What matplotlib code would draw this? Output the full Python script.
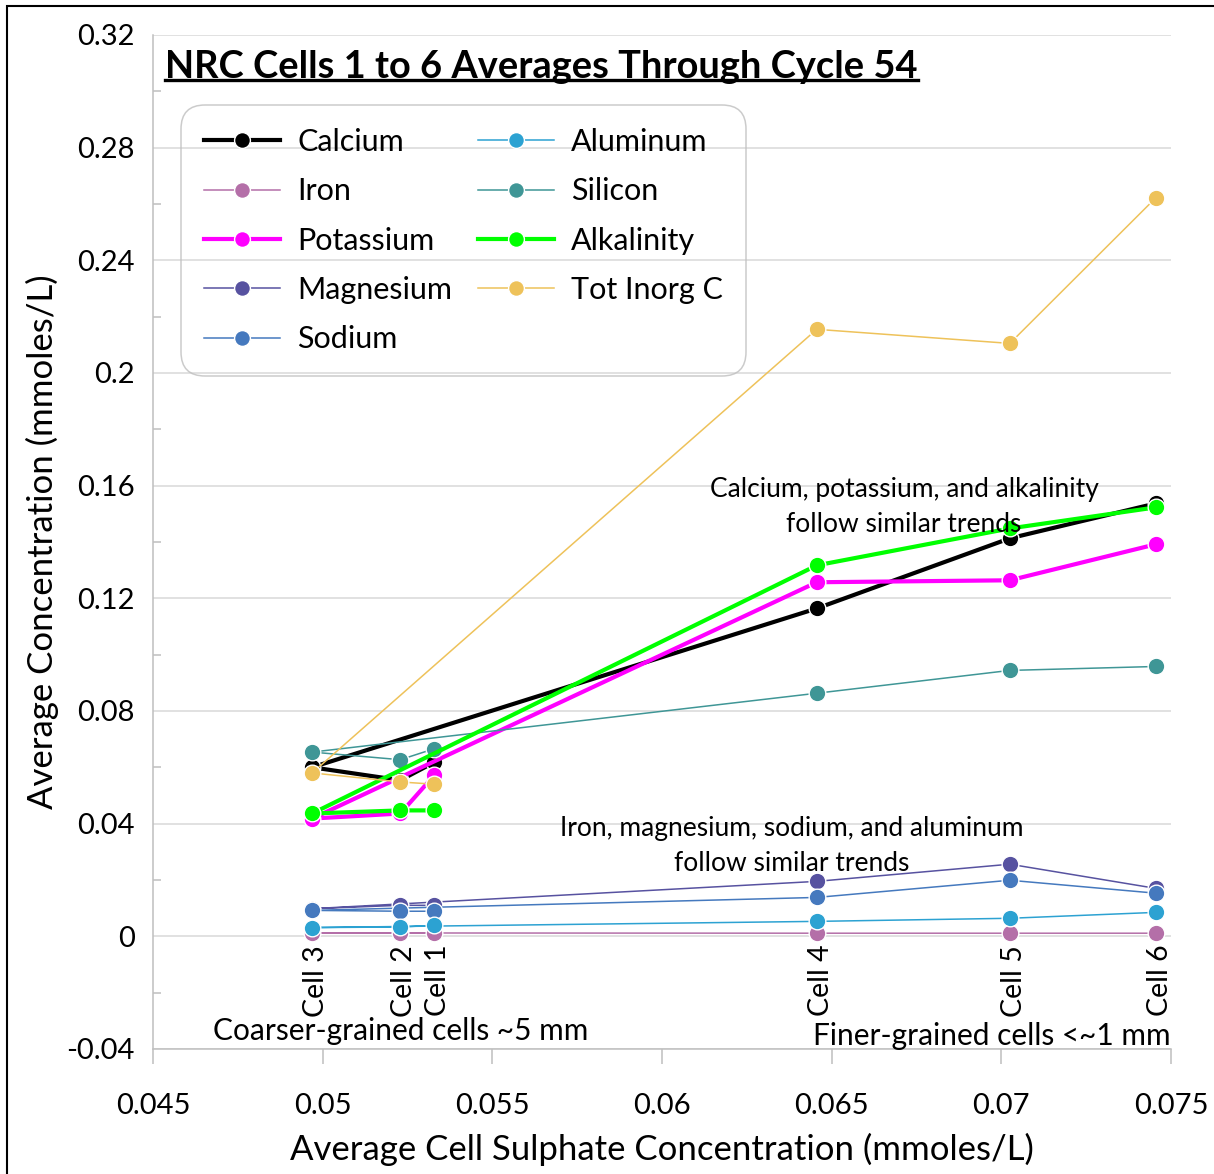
import matplotlib
matplotlib.use("Agg")
import matplotlib.pyplot as plt
from matplotlib.ticker import MultipleLocator, FuncFormatter
from matplotlib.patches import Rectangle
from matplotlib.lines import Line2D

plt.rcParams["font.family"] = ["Lato", "DejaVu Sans"]

# Cells in the order they were plotted
cells = ["Cell 1", "Cell 2", "Cell 3", "Cell 4", "Cell 5", "Cell 6"]
sulphate = [0.05329, 0.05229, 0.04969, 0.06456, 0.07025, 0.07456]

calcium = [0.0618, 0.0554, 0.0600, 0.1164, 0.1413, 0.1537]
iron = [0.0012, 0.0012, 0.0012, 0.0011, 0.0011, 0.0011]
potassium = [0.0572, 0.0436, 0.0418, 0.1257, 0.1264, 0.1392]
magnesium = [0.0110, 0.0110, 0.0098, 0.0195, 0.0256, 0.0170]
sodium = [0.0089, 0.0089, 0.0092, 0.0138, 0.0199, 0.0153]
aluminum = [0.0039, 0.0033, 0.0031, 0.0053, 0.0064, 0.0085]
silicon = [0.0666, 0.0627, 0.0654, 0.0863, 0.0944, 0.0958]
alkalinity = [0.0447, 0.0447, 0.0436, 0.1317, 0.1448, 0.1523]
tot_inorg_c = [0.0540, 0.0548, 0.0580, 0.2155, 0.2105, 0.2623]

series = [
    ("Calcium", calcium, "#000000", 3.0),
    ("Iron", iron, "#B46FA8", 1.1),
    ("Potassium", potassium, "#FF00FF", 3.0),
    ("Magnesium", magnesium, "#5752A0", 1.1),
    ("Sodium", sodium, "#4579BE", 1.1),
    ("Aluminum", aluminum, "#2CA2D2", 1.1),
    ("Silicon", silicon, "#3F9696", 1.1),
    ("Alkalinity", alkalinity, "#00FF00", 3.0),
    ("Tot Inorg C", tot_inorg_c, "#EEC25A", 1.1),
]

fig = plt.figure(figsize=(12.14, 11.74), dpi=100)
ax = fig.add_axes([0.1260, 0.1065, 0.8386, 0.8637])

for name, vals, col, lw in series:
    ax.plot(sulphate, vals, color=col, lw=lw, marker="o", markersize=12,
            markeredgecolor="white", markeredgewidth=1.0, label=name)

ax.set_xlim(0.045, 0.075)
ax.set_ylim(-0.04, 0.32)
ax.xaxis.set_major_locator(MultipleLocator(0.005))
ax.yaxis.set_major_locator(MultipleLocator(0.04))
ax.yaxis.set_minor_locator(MultipleLocator(0.02))
fmt = FuncFormatter(lambda v, p: f"{round(v, 4):g}")
ax.xaxis.set_major_formatter(fmt)
ax.yaxis.set_major_formatter(fmt)

ax.grid(axis="y", color="#D9D9D9", lw=1.1)
ax.set_axisbelow(True)
for s in ["top", "right"]:
    ax.spines[s].set_visible(False)
for s in ["left", "bottom"]:
    ax.spines[s].set_color("#BFBFBF")
    ax.spines[s].set_linewidth(1.1)

ax.tick_params(axis="x", direction="out", length=11, width=1.1, color="#BFBFBF",
               labelsize=21, pad=21)
ax.tick_params(axis="y", which="major", length=0, labelsize=21, pad=13)
ax.tick_params(axis="y", which="minor", direction="in", length=6, width=1.1,
               color="#BFBFBF")

ax.set_xlabel("Average Cell Sulphate Concentration (mmoles/L)", fontsize=25)
ax.set_ylabel("Average Concentration (mmoles/L)", fontsize=25)
ax.xaxis.set_label_coords(0.5, -0.083)
ax.yaxis.set_label_coords(-0.092, 0.5)

# cell labels under the points
for name, x in zip(cells, sulphate):
    ax.text(x + 0.00012, -0.0030, name, rotation=90, ha="center", va="top",
            fontsize=20.5)

ax.text(0.05231, -0.0337, "Coarser-grained cells ~5 mm", ha="center",
        va="center", fontsize=21.5)
ax.text(0.06971, -0.0355, "Finer-grained cells <~1 mm", ha="center",
        va="center", fontsize=21.5)
ax.text(0.06713, 0.1523, "Calcium, potassium, and alkalinity\nfollow similar trends",
        ha="center", va="center", fontsize=19, linespacing=1.5)
ax.text(0.06383, 0.0320, "Iron, magnesium, sodium, and aluminum\nfollow similar trends",
        ha="center", va="center", fontsize=19, linespacing=1.5)

leg = ax.legend(ncol=2, loc="upper left",
                bbox_to_anchor=(181 / 1214, 1 - 105 / 1174),
                bbox_transform=fig.transFigure, borderaxespad=0,
                fontsize=22, handlelength=2.5, handletextpad=0.55,
                columnspacing=0.85, labelspacing=0.7, borderpad=0.75,
                markerscale=0.95, fancybox=True)
frame = leg.get_frame()
frame.set_facecolor("none")
frame.set_edgecolor("#BFBFBF")
frame.set_linewidth(1.1)
frame.set_boxstyle("round", pad=0, rounding_size=0.8)

# title with underline
title = fig.text(165 / 1214, 1 - 67 / 1174,
                 "NRC Cells 1 to 6 Averages Through Cycle 54",
                 ha="left", va="center", fontsize=27.4, fontweight="bold")
fig.canvas.draw()
bb = title.get_window_extent()
uy = bb.y0 + 0.12 * bb.height
fig.add_artist(Line2D([bb.x0 / fig.bbox.width, bb.x1 / fig.bbox.width],
                      [uy / fig.bbox.height, uy / fig.bbox.height],
                      transform=fig.transFigure, color="black", lw=2.4))

# outer frame of the chart area
fig.add_artist(Rectangle((7 / 1214, -0.1), 1.5, 1 - 6 / 1174 + 0.1,
                         transform=fig.transFigure, fill=False,
                         edgecolor="black", lw=1.5))

fig.savefig("out.png", dpi=100)
plt.close(fig)
